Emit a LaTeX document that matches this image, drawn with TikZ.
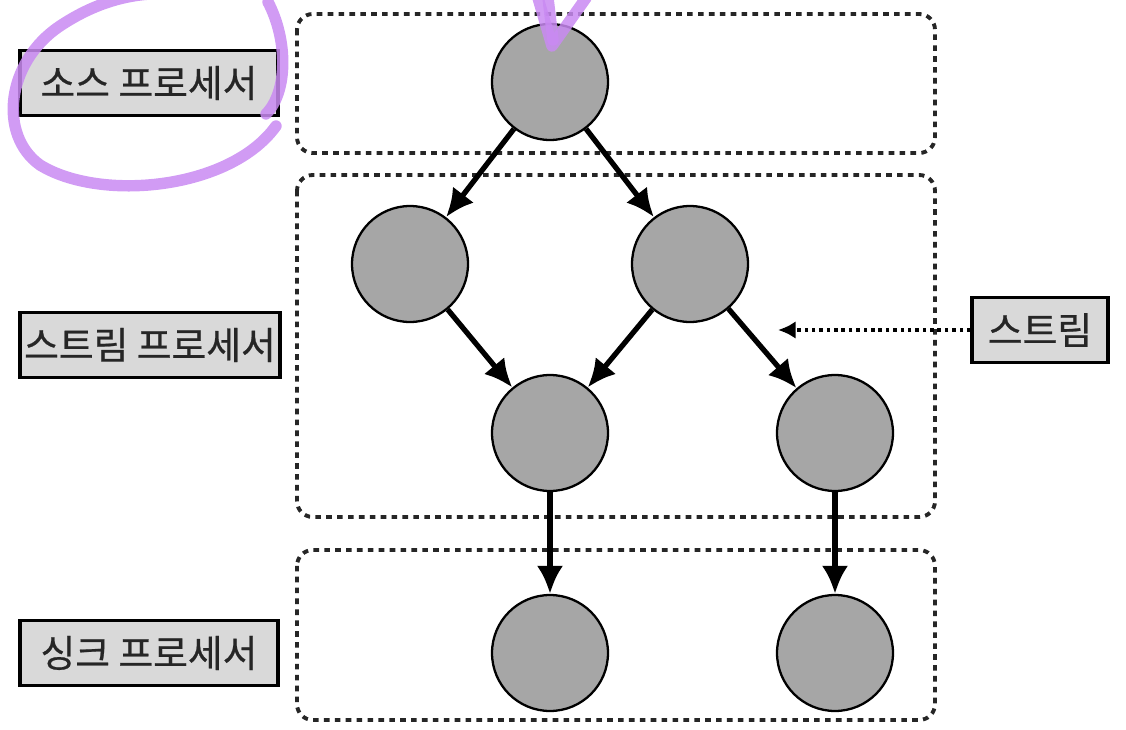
\documentclass[tikz,border=0pt]{standalone}
\usepackage{fontspec}
\newfontfamily\krfont[FakeBold=0.6]{Noto Sans CJK KR}
\usepackage{xcolor}
\usetikzlibrary{arrows.meta,positioning}

\definecolor{pen}{HTML}{C98AF2}

\begin{document}
\begin{tikzpicture}[
  x=0.02cm, y=-0.02cm,
  proc/.style={circle, draw, line width=1.3pt, fill=gray!70, minimum size=2.32cm, inner sep=0pt},
  tag/.style={rectangle, draw, line width=1.8pt, fill=gray!30, minimum height=1.3cm, inner sep=2pt, font=\krfont\fontsize{21.5}{24}\selectfont, text=black!85},
  group/.style={draw, line width=2.2pt, dash pattern=on 3.2pt off 3pt, rounded corners=9pt, black!85},
  flow/.style={-{Latex[length=16pt,width=15pt]}, line width=3pt},
  ptr/.style={-{Latex[length=10pt,width=10pt]}, line width=2pt, dash pattern=on 2pt off 2.2pt},
  scribble/.style={pen, opacity=0.85, line width=6.5pt, line cap=round, line join=round}
]
\useasboundingbox (0,0) rectangle (1126,730);
\clip (0,0) rectangle (1126,730);

% Processor groups
\draw[group] (297,14) rectangle (935,153);
\draw[group] (297,175) rectangle (935,517);
\draw[group] (297,550) rectangle (935,720);

% Labels
\node[tag, minimum width=5.16cm] (srclbl) at (149,83) {소스 프로세서};
\node[tag, minimum width=5.2cm] (strlbl) at (150,345) {스트림 프로세서};
\node[tag, minimum width=5.16cm] (snklbl) at (149,653) {싱크 프로세서};
\node[tag, minimum width=2.72cm] (stream) at (1040,330) {스트림};

% Processors
\node[proc] (src) at (550,82) {};
\node[proc] (pl) at (410,264) {};
\node[proc] (pr) at (690,264) {};
\node[proc] (pc) at (550,433) {};
\node[proc] (pf) at (835,433) {};
\node[proc] (sk1) at (550,653) {};
\node[proc] (sk2) at (835,653) {};

% Streams
\draw[flow] (src) -- (pl);
\draw[flow] (src) -- (pr);
\draw[flow] (pl) -- (pc);
\draw[flow] (pr) -- (pc);
\draw[flow] (pr) -- (pf);
\draw[flow] (pc) -- (sk1);
\draw[flow] (pf) -- (sk2);

\coordinate (streamtip) at (778,330);
\draw[ptr] (stream) -- (streamtip);

% Handwritten marks
\draw[scribble] (268,2) .. controls (288,40) and (288,92) .. (266,114);
\draw[scribble] (276,126) .. controls (230,190) and (100,202) .. (40,165)
  .. controls (-2,135) and (6,62) .. (60,26) .. controls (90,6) and (120,-4) .. (150,-6);
\draw[scribble] (538,-2) -- (552,46) -- (586,-2);
\draw[scribble] (548,-2) -- (553,40);
\end{tikzpicture}
\end{document}
